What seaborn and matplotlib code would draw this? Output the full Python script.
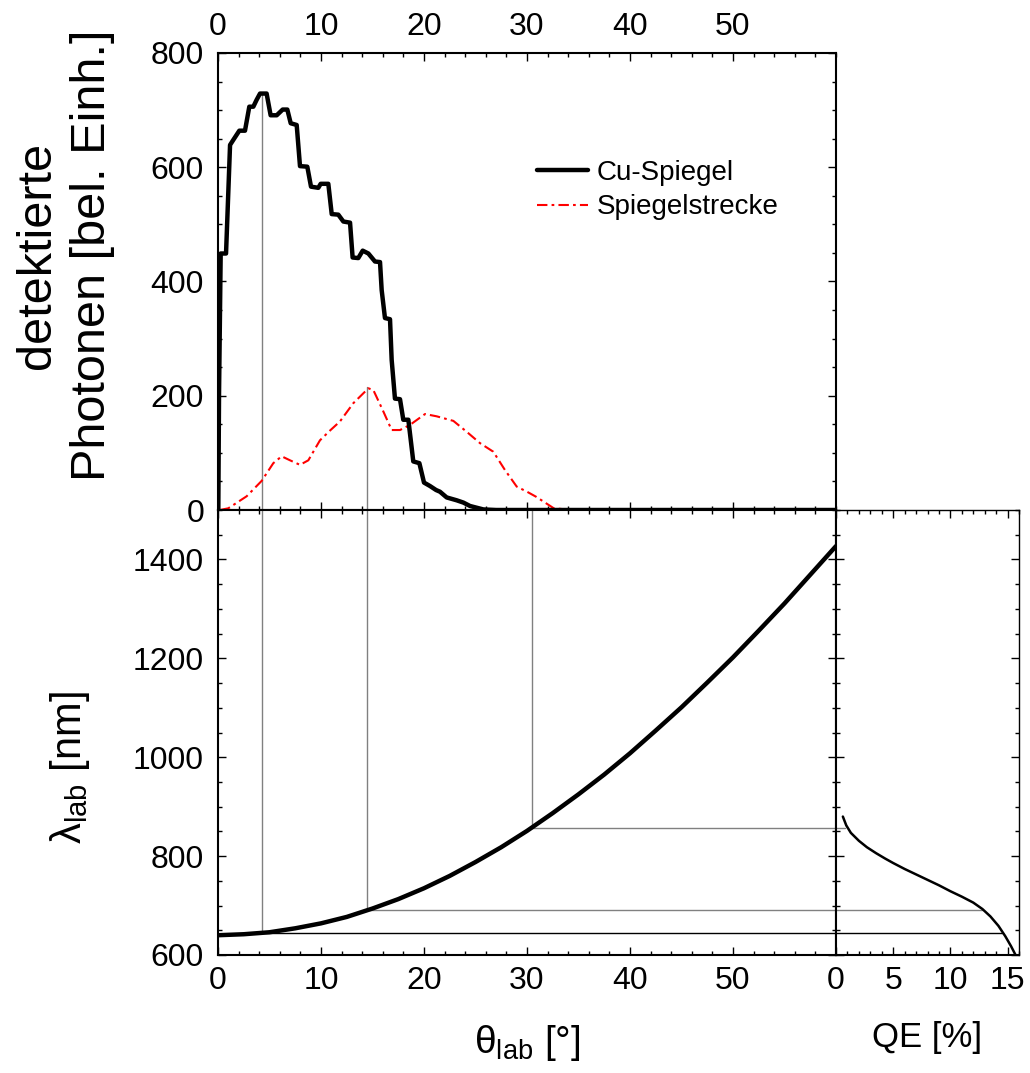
import matplotlib
matplotlib.use("Agg")
import matplotlib.pyplot as plt
import seaborn as sns
from matplotlib.ticker import MultipleLocator, FixedLocator

# ---------------- data ----------------
cu_theta = [0.03, 0.10, 0.26, 0.78, 1.17, 1.49, 2.07, 2.62, 3.04, 3.43, 3.75, 4.08, 4.72,
            5.11, 5.70, 6.28, 6.73, 7.06, 7.64, 7.96, 8.67, 9.03, 9.74, 9.97, 10.71,
            11.04, 11.68, 12.17, 12.82, 13.07, 13.62, 14.05, 14.60, 15.24, 15.73, 15.89,
            16.21, 16.70, 16.86, 17.18, 17.67, 17.99, 18.48, 18.96, 19.55, 20.00, 20.58,
            21.17, 21.55, 22.20, 23.17, 23.82, 24.47, 25.76, 27.0, 60.0]
cu_counts = [0, 204, 449, 449, 639, 648, 664, 664, 706, 706, 718, 729, 729,
             691, 691, 701, 701, 677, 674, 602, 601, 566, 564, 571, 571,
             518, 517, 505, 503, 442, 441, 454, 449, 435, 434, 385,
             336, 334, 263, 195, 194, 158, 158, 85, 82, 48, 42,
             35, 32, 22, 17, 13, 7, 1, 0, 0]

sp_theta = [0.19, 1.0, 2.78, 4.24, 5.37, 6.18, 6.99, 7.96, 8.77, 9.9, 10.87, 11.84, 13.14,
            14.6, 15.08, 15.99, 16.86, 17.67, 18.64, 20.1, 21.23, 22.85, 24.14, 25.44,
            26.73, 27.86, 29.0, 30.0, 30.9, 32.6, 34.5, 60.0]
sp_counts = [0, 3, 24, 51, 82, 94, 87, 79, 87, 122, 139, 155, 187,
             213, 210, 175, 140, 140, 149, 168, 164, 156, 137, 117,
             102, 70, 41, 32, 23, 3, 0, 0]

lam_theta = [0, 2.5, 5, 7.5, 10, 12.5, 15, 17.5, 20, 22.5, 25, 27.5, 30, 32.5, 35, 37.5,
             40, 42.5, 45, 47.5, 50, 52.5, 55, 57.5, 60]
lam_nm = [640, 642, 646, 654, 664, 677, 694, 713, 735, 760, 788, 818, 851, 887, 925, 965,
          1008, 1054, 1101, 1151, 1202, 1256, 1311, 1369, 1427]

qe_pct = [0.6, 0.9, 1.3, 2.0, 2.7, 3.5, 4.3, 5.0, 6.0, 7.0, 8.0, 9.0, 10.0, 11.0, 12.0,
          12.8, 13.5, 14.2, 14.8, 15.3, 15.7]
qe_nm = [880, 862, 847, 831, 818, 806, 795, 786, 774, 763, 752, 741, 729, 718, 706,
         693, 678, 659, 638, 618, 600]

guide_theta = [4.3, 14.5, 30.5]
guide_top_counts = [730, 215, None]
guide_lambda = [644, 690, 856]
guide_qe = [14.6, 12.8, 0.8]
guide_h_colors = ["black", "#808080", "#808080"]

top_ylabel = "detektierte\nPhotonen [bel. Einh.]"
bot_ylabel = r"λ$_\mathregular{lab}$ [nm]"
bot_xlabel = r"θ$_\mathregular{lab}$ [°]"
qe_xlabel = "QE [%]"
legend_labels = ["Cu-Spiegel", "Spiegelstrecke"]

# ---------------- style ----------------
sns.set_style("ticks")
plt.rcParams['font.family'] = ['Liberation Sans', 'DejaVu Sans']
plt.rcParams['mathtext.fontset'] = 'custom'
plt.rcParams['mathtext.rm'] = 'Liberation Sans'
plt.rcParams['mathtext.it'] = 'Liberation Sans:italic'
for k in ['text.color', 'axes.labelcolor', 'xtick.color', 'ytick.color',
          'xtick.labelcolor', 'ytick.labelcolor', 'axes.edgecolor']:
    plt.rcParams[k] = 'black'

W, H = 1030, 1073
fig = plt.figure(figsize=(W / 100, H / 100), dpi=100)
ax_top = fig.add_axes([218 / W, 1 - 510 / H, 618 / W, 457 / H])
ax_bot = fig.add_axes([218 / W, 1 - 955 / H, 618 / W, 445 / H])
ax_qe = fig.add_axes([836 / W, 1 - 955 / H, 183 / W, 445 / H])

TICK_FS = 23


def style(ax):
    ax.tick_params(which='both', direction='in', top=True, right=True,
                   width=1, colors='black', labelcolor='black', labelsize=TICK_FS)
    ax.tick_params(axis='x', pad=8)
    ax.tick_params(axis='y', pad=10)
    ax.tick_params(which='major', length=6)
    ax.tick_params(which='minor', length=3)
    for s in ax.spines.values():
        s.set_linewidth(1.5)
        s.set_color('black')
    ax.set_facecolor('white')


for ax in (ax_top, ax_bot, ax_qe):
    style(ax)

# ---------------- top panel ----------------
for t, top in zip(guide_theta, guide_top_counts):
    if top is not None:
        ax_top.plot([t, t], [0, top], color="#808080", lw=1, zorder=1)

sns.lineplot(x=cu_theta, y=cu_counts, ax=ax_top, color='black', lw=3.2,
             sort=False, estimator=None, label=legend_labels[0], zorder=3)
sns.lineplot(x=sp_theta, y=sp_counts, ax=ax_top, color='#ff0000', lw=1.5,
             sort=False, estimator=None, label=legend_labels[1],
             linestyle=(0, (5, 2, 1.3, 2)), zorder=2)

ax_top.set_xlim(0, 60)
ax_top.set_ylim(0, 800)
ax_top.xaxis.set_major_locator(FixedLocator([0, 10, 20, 30, 40, 50]))
ax_top.xaxis.set_minor_locator(MultipleLocator(2))
ax_top.yaxis.set_major_locator(MultipleLocator(200))
ax_top.yaxis.set_minor_locator(MultipleLocator(50))
ax_top.tick_params(axis='x', labeltop=True, labelbottom=False, pad=8)
ax_top.set_xlabel("")
ax_top.set_ylabel(top_ylabel, fontsize=35, linespacing=1.3, va='center', ha='center',
                  color='black')
ax_top.yaxis.set_label_coords((65 - 218) / 618, (510 - 255) / 457)

leg = ax_top.legend(loc='upper left', bbox_to_anchor=((537 - 218) / 618, (510 - 160) / 457),
                    frameon=False, fontsize=20, handlelength=1.85, handletextpad=0.3,
                    borderpad=0, labelspacing=0.3, borderaxespad=0)
for txt in leg.get_texts():
    txt.set_color('black')

# ---------------- bottom panel ----------------
for t, lam in zip(guide_theta, guide_lambda):
    ax_bot.plot([t, t], [lam, 1500], color="#808080", lw=1, zorder=1)
for t, lam, c in zip(guide_theta, guide_lambda, guide_h_colors):
    ax_bot.plot([t, 60], [lam, lam], color=c, lw=1, zorder=1)

sns.lineplot(x=lam_theta, y=lam_nm, ax=ax_bot, color='black', lw=3.2,
             sort=False, estimator=None, zorder=3)
ax_bot.set_xlim(0, 60)
ax_bot.set_ylim(600, 1500)
ax_bot.xaxis.set_major_locator(FixedLocator([0, 10, 20, 30, 40, 50]))
ax_bot.xaxis.set_minor_locator(MultipleLocator(2))
ax_bot.yaxis.set_major_locator(FixedLocator([600, 800, 1000, 1200, 1400]))
ax_bot.yaxis.set_minor_locator(MultipleLocator(50))
ax_bot.set_xlabel(bot_xlabel, fontsize=28, va='center', color='black')
ax_bot.xaxis.set_label_coords(0.5, (955 - 1043) / 445)
ax_bot.set_ylabel(bot_ylabel, fontsize=30, va='center', ha='center', color='black')
ax_bot.yaxis.set_label_coords((70 - 218) / 618, (955 - 768) / 445)

# ---------------- QE panel ----------------
for q, lam, c in zip(guide_qe, guide_lambda, guide_h_colors):
    ax_qe.plot([0, q], [lam, lam], color=c, lw=1, zorder=1)
sns.lineplot(x=qe_pct, y=qe_nm, ax=ax_qe, color='black', lw=1.8,
             sort=False, estimator=None, zorder=3)
ax_qe.set_xlim(0, 16)
ax_qe.set_ylim(600, 1500)
ax_qe.xaxis.set_major_locator(FixedLocator([0, 5, 10, 15]))
ax_qe.xaxis.set_minor_locator(MultipleLocator(1))
ax_qe.yaxis.set_major_locator(FixedLocator([600, 800, 1000, 1200, 1400]))
ax_qe.yaxis.set_minor_locator(MultipleLocator(50))
ax_qe.tick_params(axis='y', labelleft=False)
ax_qe.spines['top'].set_linewidth(1)
ax_qe.spines['right'].set_linewidth(1)
ax_qe.set_xlabel(qe_xlabel, fontsize=25, va='center', color='black')
ax_qe.xaxis.set_label_coords(0.5, (955 - 1038) / 445)
ax_qe.set_ylabel("")

fig.savefig("out.png", dpi=100, facecolor='white')
